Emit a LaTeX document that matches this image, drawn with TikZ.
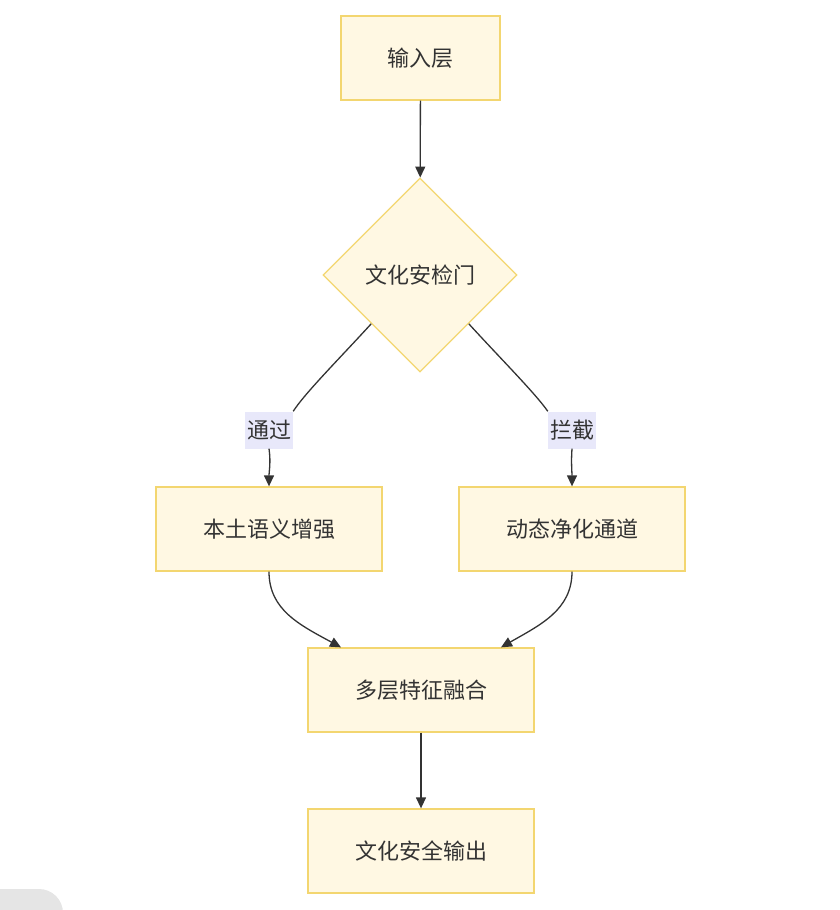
\documentclass[tikz,border=0pt]{standalone}
\usepackage{fontspec}
\setmainfont{Noto Sans CJK SC}
\usepackage{tikz}
\usetikzlibrary{positioning,arrows.meta,calc,backgrounds,shapes.geometric}
\definecolor{boxfill}{HTML}{FFF8E3}
\definecolor{boxline}{HTML}{F3D670}
\definecolor{edgeline}{HTML}{333333}
\definecolor{labelbg}{HTML}{E8E8FA}

\begin{document}
\begin{tikzpicture}[
  x=1pt, y=-1pt,
  font=\fontsize{22}{26}\selectfont,
  box/.style={draw=boxline, fill=boxfill, line width=1.3pt, text=edgeline,
    minimum width=226pt, minimum height=84pt, inner sep=0pt},
  gatebox/.style={draw=boxline, fill=boxfill, line width=1.3pt, text=edgeline,
    diamond, minimum width=194pt, minimum height=194pt, inner sep=0pt},
  edgelabel/.style={fill=labelbg, text=edgeline, inner sep=2pt,
    minimum height=37pt},
  arr/.style={draw=edgeline, line width=1.3pt,
    -{Triangle[length=11pt, width=10pt]}},
  plain/.style={draw=edgeline, line width=1.3pt}
]
\useasboundingbox (0,0) rectangle (839,910);
% corner of the window behind
\fill[gray!20, rounded corners=24pt] (-40,889) rectangle (63,960);

\node[box, minimum width=159pt] (input) at (420.5,58) {输入层};
\node[gatebox] (gate) at (420,275) {文化安检门};
\node[box] (local) at (269,529) {本土语义增强};
\node[box] (purify) at (572,529) {动态净化通道};
\node[box] (fuse) at (421,690) {多层特征融合};
\node[box] (out) at (421,851) {文化安全输出};

\node[edgelabel] (pass) at (269,430) {通过};
\node[edgelabel] (block) at (572,430) {拦截};

\draw[arr] (input) -- (gate);
\draw[plain] (gate.south west) .. controls (340,358) and (305,393) .. (pass.north east);
\draw[arr] (pass.south) .. controls (271,462) and (269,472) .. (local.north);
\draw[plain] (gate.south east) .. controls (500,358) and (535,393) .. (block.north west);
\draw[arr] (block.south) .. controls (571,462) and (572,472) .. (purify.north);
\draw[arr] (local.south) .. controls (269,610) and (300,625) .. ($(fuse.north)+(-80,0)$);
\draw[arr] (purify.south) .. controls (572,610) and (540,625) .. ($(fuse.north)+(80,0)$);
\draw[arr] (fuse) -- (out);
\end{tikzpicture}
\end{document}
